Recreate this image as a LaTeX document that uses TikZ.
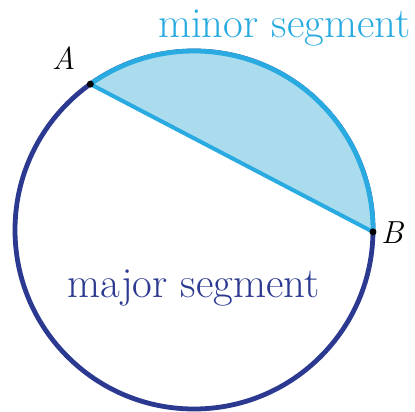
\documentclass[tikz,border=0pt]{standalone}
\usepackage{fontspec}
\usetikzlibrary{calc}
\definecolor{navy}{RGB}{43,57,144}
\definecolor{sky}{RGB}{41,171,226}
\definecolor{skyfill}{RGB}{171,220,238}
\begin{document}
\begin{tikzpicture}[x=1bp,y=-1bp,
  arcline/.style={line width=4.8bp},
  pt/.style={circle,fill=black,inner sep=0pt,minimum size=7bp},
  lbl/.style={inner sep=0pt,anchor=base west}]
\useasboundingbox (0,0) rectangle (415,412);
\coordinate (O) at (194,230);
\def\R{179}
\coordinate (A) at ($(O)+(234.6:\R)$);
\coordinate (B) at ($(O)+(0.6:\R)$);
% major circle
\draw[navy,arcline] (O) circle[radius=\R];
% minor segment
\fill[skyfill] (A) arc[start angle=234.6,end angle=360.6,radius=\R] -- cycle;
\draw[sky,arcline,line cap=butt] (A) arc[start angle=234.6,end angle=360.6,radius=\R];
\draw[sky,line width=4bp] (A) -- (B);
\node[pt] (pA) at (A) {};
\node[pt] (pB) at (B) {};
% labels
\node[lbl,text=sky,font=\fontsize{43}{45}\selectfont] (minor) at (158,37) {minor segment};
\node[lbl,text=navy,font=\fontsize{43}{45}\selectfont] (major) at (67,297) {major segment};
\node[lbl,font=\fontsize{32}{34}\selectfont\itshape] (lA) at (52,69) {A};
\node[lbl,font=\fontsize{32}{34}\selectfont\itshape] (lB) at (381,243) {B};
\end{tikzpicture}
\end{document}
